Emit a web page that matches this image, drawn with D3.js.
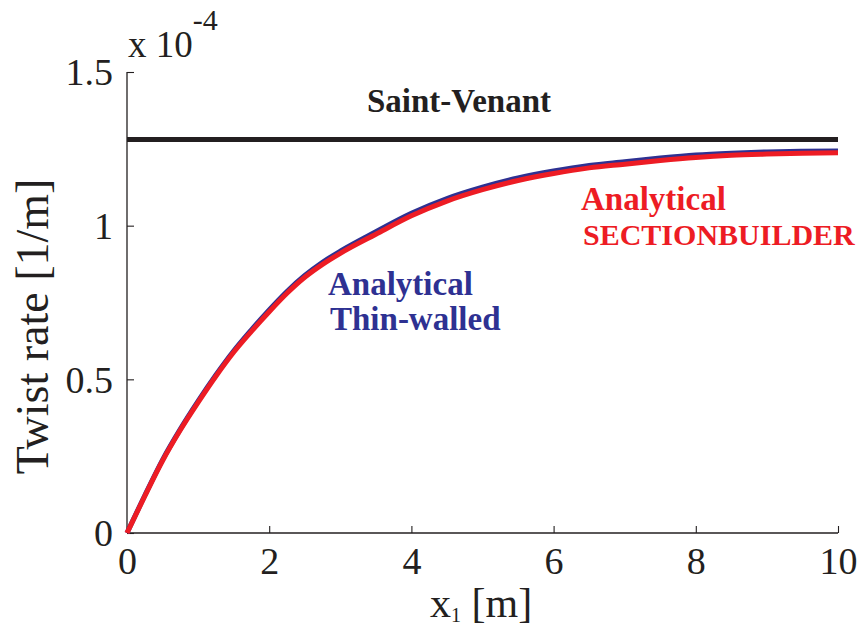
<!DOCTYPE html>
<html><head><meta charset="utf-8">
<script src="https://cdn.jsdelivr.net/npm/d3@7"></script>
<style>body{margin:0;background:#fff}svg{display:block}text{font-family:"Liberation Serif",serif}</style>
</head><body>
<svg id="c" width="861" height="632"></svg>
<script>
const xPos = [0,0.25,0.5,0.75,1,1.25,1.5,1.75,2,2.25,2.5,2.75,3,3.5,4,4.5,5,5.5,6,6.5,7,7.5,8,8.5,9,9.5,10];
const redVals  = [0,0.12,0.235,0.335,0.425,0.51,0.588,0.656,0.72,0.78,0.832,0.874,0.91,0.972,1.032,1.08,1.117,1.147,1.17,1.188,1.2,1.212,1.222,1.229,1.233,1.236,1.237];
const blueVals = [0,0.122,0.238,0.338,0.429,0.514,0.592,0.661,0.726,0.786,0.838,0.881,0.917,0.98,1.04,1.088,1.125,1.155,1.178,1.196,1.208,1.22,1.23,1.236,1.24,1.242,1.243];
const saintVenant = 1.28;
const xTicks = [0,2,4,6,8,10];
const yTicks = [0,0.5,1,1.5];
const yTickLabels = ["0","0.5","1","1.5"];

const svg = d3.select("#c");
const x = d3.scaleLinear().domain([0,10]).range([127,838]);
const y = d3.scaleLinear().domain([0,1.5]).range([533,72]);
const serif = "Liberation Serif";
const ink = "#231F20";

const xAxis = d3.axisBottom(x).tickValues(xTicks).tickSize(-7).tickFormat(d3.format("d")).tickPadding(14);
const gx = svg.append("g").attr("transform",`translate(0,${y(0)})`).call(xAxis);
const yAxis = d3.axisLeft(y).tickValues(yTicks).tickSize(-7).tickFormat((d,i)=>yTickLabels[i]).tickPadding(14);
const gy = svg.append("g").attr("transform",`translate(${x(0)},0)`).call(yAxis);
[gx,gy].forEach(g=>{
  g.attr("font-family",serif);
  g.select(".domain").attr("stroke",ink).attr("stroke-width",1.3);
  g.selectAll(".tick line").attr("stroke",ink).attr("stroke-width",1.1);
  g.selectAll(".tick text").attr("font-family",serif).attr("font-size",38).attr("fill",ink);
});
gx.select(".domain").attr("d",`M${x(0)},0H${x(10)}`);
gy.select(".domain").attr("d",`M0,${y(1.5)}V${y(0)}`);
gx.selectAll(".tick text").attr("dy","0.71em").attr("y",14);
gy.selectAll(".tick text").attr("dy","0.34em");

const line = d3.line().x((d,i)=>x(xPos[i])).y(d=>y(d)).curve(d3.curveMonotoneX);
svg.append("path").datum(blueVals).attr("d",line).attr("fill","none").attr("stroke","#2E3192").attr("stroke-width",5);
svg.append("path").datum(redVals).attr("d",line).attr("fill","none").attr("stroke","#ED1C24").attr("stroke-width",5);
svg.append("line").attr("x1",x(0)).attr("x2",x(10)).attr("y1",y(saintVenant)).attr("y2",y(saintVenant))
  .attr("stroke",ink).attr("stroke-width",5);

function label(xp,yp,size,color,txt){
  svg.append("text").attr("x",xp).attr("y",yp).attr("font-family",serif).attr("font-weight","bold")
    .attr("font-size",size).attr("fill",color).text(txt);
}
label(367,112,33,ink,"Saint-Venant");
label(328,295,33,"#2E3192","Analytical");
label(330,330,33,"#2E3192","Thin-walled");
label(581,210,33,"#ED1C24","Analytical");
label(583,245,30,"#ED1C24","SECTIONBUILDER");

const ex = svg.append("text").attr("x",128).attr("y",57).attr("font-family",serif).attr("font-size",37).attr("fill",ink);
ex.append("tspan").text("x 10");
ex.append("tspan").attr("dy",-27).attr("font-size",30).text("-4");

const xl = svg.append("text").attr("x",430).attr("y",617).attr("font-family",serif).attr("font-size",42).attr("fill",ink);
xl.append("tspan").text("x");
xl.append("tspan").attr("font-size",20).attr("dy",5).text("1");
xl.append("tspan").attr("dy",-5).text(" [m]");
svg.append("text").attr("transform",`translate(48,${(183+470)/2}) rotate(-90)`).attr("text-anchor","middle")
  .attr("font-family",serif).attr("font-size",46).attr("fill",ink).text("Twist rate [1/m]");
</script>
</body></html>
